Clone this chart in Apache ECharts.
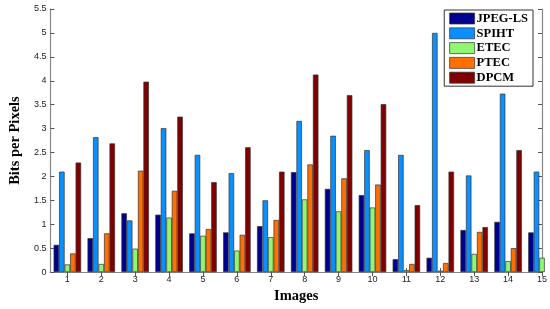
<!DOCTYPE html>
<html lang="en">
<head>
    <meta charset="UTF-8">
    <title>Bits per Pixels</title>
    <script src="https://cdn.jsdelivr.net/npm/echarts@6/dist/echarts.min.js"></script>
    <style>
        html, body { margin: 0; padding: 0; background: #fff; }
        #main { width: 550px; height: 309px; }
    </style>
</head>
<body>
<div id="main"></div>
<script type="text/javascript">
    var images = [1, 2, 3, 4, 5, 6, 7, 8, 9, 10, 11, 12, 13, 14, 15];
    var jpegls = [0.57, 0.71, 1.23, 1.20, 0.81, 0.83, 0.96, 2.09, 1.74, 1.61, 0.27, 0.30, 0.88, 1.05, 0.83];
    var spiht  = [2.10, 2.82, 1.08, 3.01, 2.45, 2.07, 1.50, 3.16, 2.85, 2.55, 2.45, 5.00, 2.02, 3.73, 2.10];
    var etec   = [0.16, 0.17, 0.49, 1.14, 0.76, 0.45, 0.73, 1.52, 1.27, 1.35, 0.04, 0.03, 0.38, 0.23, 0.30];
    var ptec   = [0.39, 0.81, 2.12, 1.70, 0.90, 0.78, 1.09, 2.25, 1.96, 1.83, 0.17, 0.19, 0.84, 0.50, null];
    var dpcm   = [2.29, 2.69, 3.98, 3.25, 1.88, 2.61, 2.10, 4.13, 3.70, 3.51, 1.40, 2.10, 0.94, 2.55, null];
    var yTicks = [0, 0.5, 1, 1.5, 2, 2.5, 3, 3.5, 4, 4.5, 5, 5.5];

    var names = ['JPEG-LS', 'SPIHT', 'ETEC', 'PTEC', 'DPCM'];
    var values = [jpegls, spiht, etec, ptec, dpcm];
    var colors = ['#00008f', '#0a8fff', '#8ff870', '#ff7000', '#800000'];

    var axisLine = { show: true, lineStyle: { color: '#888', width: 1.2 } };
    var tick = { show: true, inside: true, length: 4, lineStyle: { color: '#555' } };

    var series = names.map(function (n, i) {
        return {
            name: n,
            type: 'bar',
            barWidth: 5.5,
            barGap: '0%',
            clip: true,
            itemStyle: { color: colors[i], borderColor: '#333', borderWidth: 0.7 },
            data: images.map(function (x, j) { return [x, values[i][j]]; })
        };
    });

    var chart = echarts.init(document.getElementById('main'));
    chart.setOption({
        animation: false,
        backgroundColor: '#fff',
        color: colors,
        grid: { left: 37, right: 8, top: 9, bottom: 31 },
        legend: {
            orient: 'vertical',
            right: 17,
            top: 10,
            padding: [2, 5, 2, 5],
            itemWidth: 25,
            itemHeight: 11,
            itemGap: 1.8,
            backgroundColor: '#fff',
            borderColor: '#333',
            borderWidth: 1,
            borderRadius: 0,
            icon: 'rect',
            itemStyle: { borderColor: '#333', borderWidth: 0.7 },
            textStyle: { fontFamily: 'Liberation Serif', fontWeight: 'bold', fontSize: 12.5, color: '#000', padding: [0, 0, 0, -3] },
            data: names
        },
        xAxis: [{
            type: 'value',
            min: 0.5,
            max: 15,
            name: 'Images',
            nameLocation: 'middle',
            nameGap: 13,
            nameTextStyle: { fontFamily: 'Liberation Serif', fontWeight: 'bold', fontSize: 14.5, color: '#000' },
            axisLine: axisLine,
            axisTick: Object.assign({ customValues: images }, tick),
            axisLabel: { customValues: images, fontFamily: 'Liberation Sans', fontSize: 9, color: '#222', margin: 3 },
            splitLine: { show: false }
        }, {
            type: 'value',
            position: 'top',
            min: 0.5,
            max: 15,
            axisLine: axisLine,
            axisTick: Object.assign({ customValues: images }, tick),
            axisLabel: { show: false },
            splitLine: { show: false }
        }],
        yAxis: [{
            type: 'value',
            min: 0,
            max: 5.5,
            interval: 0.5,
            name: 'Bits per Pixels',
            nameLocation: 'middle',
            nameGap: 21,
            nameTextStyle: { fontFamily: 'Liberation Serif', fontWeight: 'bold', fontSize: 14.5, color: '#000' },
            axisLine: axisLine,
            axisTick: tick,
            axisLabel: { fontFamily: 'Liberation Sans', fontSize: 9, color: '#222', margin: 4,
                formatter: function (v) { return yTicks.indexOf(v) >= 0 ? String(v) : ''; } },
            splitLine: { show: false }
        }, {
            type: 'value',
            position: 'right',
            min: 0,
            max: 5.5,
            interval: 0.5,
            axisLine: axisLine,
            axisTick: tick,
            axisLabel: { show: false },
            splitLine: { show: false }
        }],
        series: series
    });
</script>
</body>
</html>
